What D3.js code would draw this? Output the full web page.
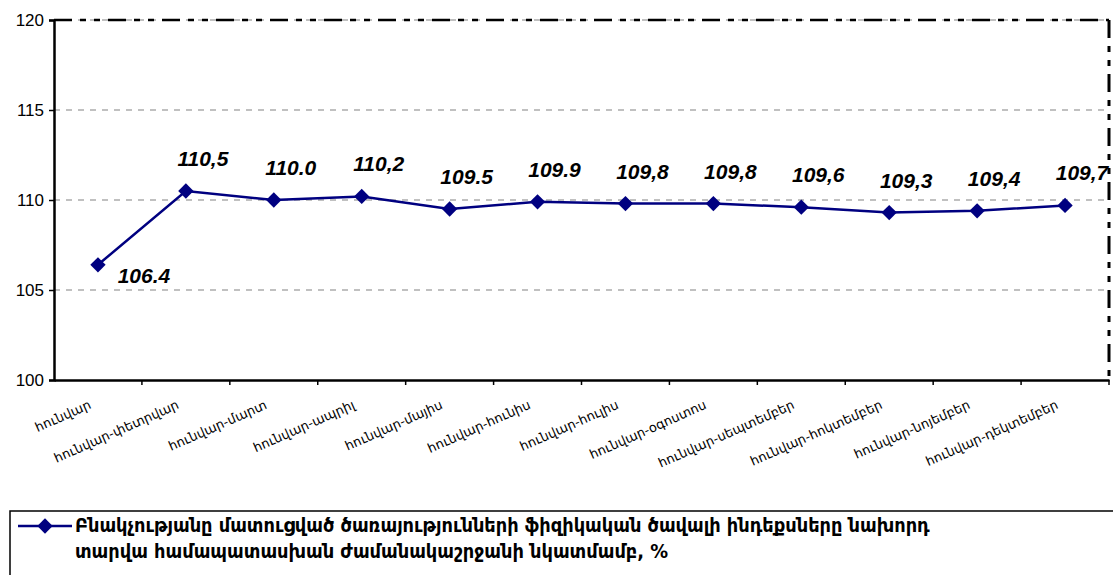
<!DOCTYPE html>
<html>
<head>
<meta charset="utf-8">
<script src="https://cdn.jsdelivr.net/npm/d3@7"></script>
<style>
  body { margin: 0; background: #fff; }
  svg { display: block; }
</style>
</head>
<body>
<div id="chart"></div>
<script>
// Data
const categories = [
    'հունվար', 'հունվար-փետրվար', 'հունվար-մարտ', 'հունվար-ապրիլ',
    'հունվար-մայիս', 'հունվար-հունիս', 'հունվար-հուլիս', 'հունվար-օգոստոս',
    'հունվար-սեպտեմբեր', 'հունվար-հոկտեմբեր', 'հունվար-նոյեմբեր', 'հունվար-դեկտեմբեր'
];
const values = [106.4, 110.5, 110.0, 110.2, 109.5, 109.9, 109.8, 109.8, 109.6, 109.3, 109.4, 109.7];
const valueLabels = ['106.4', '110,5', '110.0', '110,2', '109.5', '109.9', '109,8', '109,8', '109,6', '109,3', '109,4', '109,7'];
const yTicks = [100, 105, 110, 115, 120];
const legendLines = [
    'Բնակչությանը մատուցված ծառայությունների  ֆիզիկական ծավալի ինդեքսները նախորդ',
    'տարվա համապատասխան ժամանակաշրջանի նկատմամբ, %'
];

const W = 1113, H = 575;
const margin = { top: 20, right: 4, bottom: 195, left: 54 };
const width = W - margin.left - margin.right;
const height = H - margin.top - margin.bottom;
const navy = '#000080';

const svg = d3.select('#chart').append('svg')
    .attr('width', W)
    .attr('height', H);

const g = svg.append('g')
    .attr('transform', `translate(${margin.left},${margin.top})`);

const x = d3.scaleBand()
    .domain(categories)
    .range([0, width]);

const y = d3.scaleLinear()
    .domain([100, 120])
    .range([height, 0]);

// gridlines
g.selectAll('.grid')
    .data(yTicks.filter(d => d > 100))
    .enter()
    .append('line')
    .attr('x1', 0)
    .attr('x2', width)
    .attr('y1', d => y(d))
    .attr('y2', d => y(d))
    .attr('stroke', '#c0c0c0')
    .attr('stroke-width', 2)
    .attr('stroke-dasharray', '6,6');

// plot area border (top + right, dash-dot)
g.append('line')
    .attr('x1', 0).attr('x2', width)
    .attr('y1', 0).attr('y2', 0)
    .attr('stroke', '#000')
    .attr('stroke-width', 2.5)
    .attr('stroke-dasharray', '18,8,6,8,6,8');
g.append('line')
    .attr('x1', width).attr('x2', width)
    .attr('y1', 0).attr('y2', height)
    .attr('stroke', '#000')
    .attr('stroke-width', 3)
    .attr('stroke-dasharray', '18,8,6,8,6,8');

// y axis
const yAxis = g.append('g')
    .call(d3.axisLeft(y).tickValues(yTicks).tickSize(5).tickPadding(5));
yAxis.select('.domain').attr('stroke-width', 2.5);
yAxis.selectAll('.tick line').attr('stroke-width', 1.5);
yAxis.selectAll('text')
    .attr('font-family', 'Arial, "Liberation Sans", sans-serif')
    .attr('font-size', 17)
    .attr('fill', '#000');

// x axis: ticks on category boundaries
const xAxis = g.append('g')
    .attr('transform', `translate(0,${height})`)
    .call(d3.axisBottom(x).tickSize(0).tickFormat(''));
xAxis.select('.domain').attr('stroke-width', 2.5);
xAxis.selectAll('.bound')
    .data(categories)
    .enter()
    .append('line')
    .attr('x1', d => x(d) + x.bandwidth())
    .attr('x2', d => x(d) + x.bandwidth())
    .attr('y1', 0)
    .attr('y2', 5)
    .attr('stroke', '#000')
    .attr('stroke-width', 1.5);

xAxis.selectAll('.cat')
    .data(categories)
    .enter()
    .append('text')
    .attr('class', 'cat')
    .attr('transform', d => `translate(${x(d) + x.bandwidth() / 2 - 6},${28}) rotate(-24)`)
    .attr('text-anchor', 'end')
    .attr('font-family', '"DejaVu Sans", sans-serif')
    .attr('font-size', 13)
    .attr('fill', '#000')
    .text(d => d);

// line
const line = d3.line()
    .x((d, i) => x(categories[i]) + x.bandwidth() / 2)
    .y(d => y(d));

g.append('path')
    .datum(values)
    .attr('d', line)
    .attr('fill', 'none')
    .attr('stroke', navy)
    .attr('stroke-width', 2.5);

const diamond = d3.symbol().type(d3.symbolDiamond2 || d3.symbolDiamond).size(150);

g.selectAll('.pt')
    .data(values)
    .enter()
    .append('path')
    .attr('d', diamond)
    .attr('transform', (d, i) => `translate(${x(categories[i]) + x.bandwidth() / 2},${y(d)})`)
    .attr('fill', navy);

// value labels
g.selectAll('.lbl')
    .data(values)
    .enter()
    .append('text')
    .attr('x', (d, i) => x(categories[i]) + x.bandwidth() / 2 + (i === 0 ? 46 : 17))
    .attr('y', (d, i) => y(d) + (i === 0 ? 18 : -25))
    .attr('text-anchor', 'middle')
    .attr('font-family', 'Arial, "Liberation Sans", sans-serif')
    .attr('font-size', 21)
    .attr('font-style', 'italic')
    .attr('font-weight', 'bold')
    .attr('fill', '#000')
    .text((d, i) => valueLabels[i]);

// legend
const lg = svg.append('g');
lg.append('rect')
    .attr('x', 10)
    .attr('y', 511)
    .attr('width', 1200)
    .attr('height', 100)
    .attr('fill', '#fff')
    .attr('stroke', '#000')
    .attr('stroke-width', 1.5);
lg.append('line')
    .attr('x1', 18).attr('x2', 72)
    .attr('y1', 526).attr('y2', 526)
    .attr('stroke', navy)
    .attr('stroke-width', 2.5);
lg.append('path')
    .attr('d', diamond)
    .attr('transform', 'translate(45,526)')
    .attr('fill', navy);
lg.selectAll('.legtext')
    .data(legendLines)
    .enter()
    .append('text')
    .attr('x', 75)
    .attr('y', (d, i) => 532 + i * 26)
    .attr('font-family', '"DejaVu Sans Condensed", "DejaVu Sans", sans-serif')
    .attr('font-size', 19.8)
    .attr('font-weight', 'bold')
    .attr('fill', '#000')
    .text(d => d);
</script>
</body>
</html>
